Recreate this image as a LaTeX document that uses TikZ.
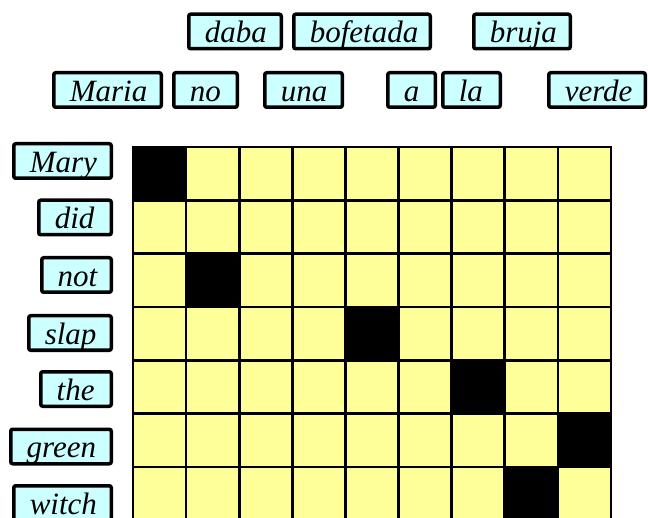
\documentclass[tikz,border=0pt]{standalone}
\usepackage{fontspec}
\setmainfont{Liberation Serif}
\newfontfamily\wordit{Liberation Serif}[UprightFont=* Italic]
\definecolor{cWord}{HTML}{CCFFFF}
\definecolor{cCell}{HTML}{FFFF99}

\begin{document}
\begin{tikzpicture}[x=0.5pt,y=-0.5pt,
      word/.style={draw=black,line width=1.75pt,fill=cWord,rounded corners=1pt,
        inner xsep=8pt,inner ysep=0.5pt,text width=#1,
        text height=13.65pt,text depth=2.6pt,align=left,
        font=\wordit\fontsize{15.5}{17}\selectfont},
      gridline/.style={line width=1.3pt,color=black,line cap=rect}]
    \useasboundingbox (0,0) rectangle (648,518);
    % alignment grid
    \fill[cCell] (133,147) rectangle (611,520);
    \foreach \r/\c in {1/1,3/2,4/5,5/7,6/9,7/8}
      \fill[black] ({133+53.1*(\c-1)},{147+53.3*(\r-1)}) rectangle ++(53.1,53.3);
    \foreach \i in {0,...,9}
      \draw[gridline] ({133+53.1*\i},147) -- ({133+53.1*\i},520);
    \foreach \j in {0,...,7}
      \draw[gridline] (133,{147+53.3*\j}) -- (611,{147+53.3*\j});
    % english words
    \node[word=32.75pt] (mary)  at (62.5,161)   {Mary};
    \node[word=20.25pt] (did)   at (75,217.5)   {did};
    \node[word=18.75pt] (not)   at (76.5,275)   {not};
    \node[word=25.25pt] (slap)  at (70,333)     {slap};
    \node[word=19.25pt] (the)   at (76,389)     {the};
    \node[word=34.25pt] (green) at (61,446.5)   {green};
    \node[word=32.75pt] (witch) at (62.5,503)   {witch};
    % spanish words
    \node[word=30.25pt] (daba)     at (235,31.5) {daba};
    \node[word=52.25pt] (bofetada) at (362,31.5) {bofetada};
    \node[word=32.25pt] (bruja)    at (522,31.5) {bruja};
    \node[word=37.75pt] (maria) at (107.5,90) {Maria};
    \node[word=15.75pt] (no)    at (205.5,90) {no};
    \node[word=22.75pt] (una)   at (303.5,90) {una};
    \node[word=7.75pt]  (a)     at (411.5,90) {a};
    \node[word=12.75pt] (la)    at (471.5,90) {la};
    \node[word=32.25pt] (verde) at (597,90)   {verde};
  \end{tikzpicture}
\end{document}
